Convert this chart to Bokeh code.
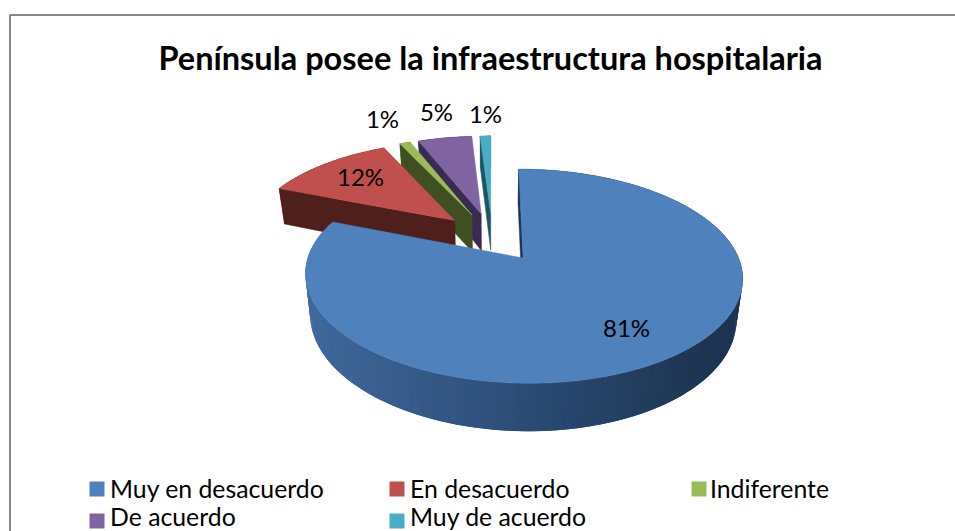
import math
from bokeh.plotting import figure
from bokeh.models import Range1d
from bokeh.core.properties import value
from bokeh.embed import file_html
from bokeh.resources import INLINE

# ---- data ----
categories = ["Muy en desacuerdo", "En desacuerdo", "Indiferente", "De acuerdo", "Muy de acuerdo"]
values = [81, 12, 1, 5, 1]
title_text = "Península posee la infraestructura hospitalaria"

# ---- style ----
top_colors = ["#4F81BD", "#C0504D", "#9BBB59", "#8064A2", "#4BACC6"]
side_colors = ["#1F3653", "#4F1F1C", "#3F4F22", "#3A2B52", "#1D5566"]
FONT = "Lato"

# ---- layout (page pixels) ----
X0, Y0, A, B, K = 491.8, 236.4, 208.0, 97.0, 0.163
DEPTH, BOTTOM_SCALE, EXPLODE = 38.5, 0.975, 0.255
label_xy = [(626, 326.5), (360, 175.5), (382, 118), (436, 110.5), (485, 112.5)]
legend_marker_x = [96.5, 396.5, 698.5, 96.5, 396.5]
legend_text_x = [109.5, 409.5, 709.5, 109.5, 409.5]
legend_marker_y = [488.5, 488.5, 488.5, 520.5, 520.5]
legend_y = [488, 488, 488, 516, 516]


def project(u, v, bottom=False):
    w = 1 + K * v
    if bottom:
        return X0 + BOTTOM_SCALE * A * u / w, Y0 - B * v / w + DEPTH / w
    return X0 + A * u / w, Y0 - B * v / w


def disc(angle, off):
    a = math.radians(angle)
    return off[0] + math.sin(a), off[1] + math.cos(a)


def mix(c1, c2, t):
    t = max(0.0, min(1.0, t))
    vals = [int(c1[i:i + 2], 16) * (1 - t) + int(c2[i:i + 2], 16) * t for i in (1, 3, 5)]
    return "#%02x%02x%02x" % tuple(round(x) for x in vals)


p = figure(width=955, height=531, output_backend="svg", toolbar_location=None,
           x_range=Range1d(0, 955), y_range=Range1d(531, 0), min_border=0,
           outline_line_color=None, background_fill_color="white")
p.xaxis.visible = False
p.yaxis.visible = False
p.grid.visible = False

# chart frame
p.line([9.5, 9.5, 955], [531, 14.5, 14.5], line_color="#868686", line_width=2)

# slice angular spans
total = sum(values)
spans, start = [], 0.0
for v in values:
    end = start + 360.0 * v / total
    spans.append((start, end))
    start = end


def draw_slice(i):
    a0, a1 = spans[i]
    mid = math.radians((a0 + a1) / 2)
    off = (EXPLODE * math.sin(mid), EXPLODE * math.cos(mid))
    n = max(4, int((a1 - a0) / 1.0))
    angles = [a0 + (a1 - a0) * k / n for k in range(n + 1)]
    rim = [disc(a, off) for a in angles]
    top_rim = [project(*q) for q in rim]
    bot_rim = [project(*q, bottom=True) for q in rim]
    apex_t = project(*off)
    apex_b = project(*off, bottom=True)
    # outer wall: painted from the far end, each strip overlapping the next so no seams show
    order = range(n) if i != 0 else range(n - 1, -1, -1)
    for k in order:
        k2 = min(n, k + 2) if i != 0 else max(0, k - 1)
        k1 = k if i != 0 else k + 1
        xs = [top_rim[k1][0], top_rim[k2][0], bot_rim[k2][0], bot_rim[k1][0]]
        ys = [top_rim[k1][1], top_rim[k2][1], bot_rim[k2][1], bot_rim[k1][1]]
        if i == 0:
            xm = sum(xs) / 4
            if xm < 540:
                c = mix("#41699C", "#2A4A73", (xm - 305) / 235)
            else:
                c = mix("#2A4A73", "#1D3552", (xm - 540) / 160)
        else:
            c = side_colors[i]
        p.patch(xs, ys, fill_color=c, line_color=None)
    # cut face at the start angle
    xs = [apex_t[0], top_rim[0][0], bot_rim[0][0], apex_b[0]]
    ys = [apex_t[1], top_rim[0][1], bot_rim[0][1], apex_b[1]]
    p.patch(xs, ys, fill_color=side_colors[i], line_color=side_colors[i], line_width=0.5)
    # top face
    xs = [apex_t[0]] + [q[0] for q in top_rim]
    ys = [apex_t[1]] + [q[1] for q in top_rim]
    p.patch(xs, ys, fill_color=top_colors[i], line_color=top_colors[i], line_width=0.5)


# painted right to left along the back: each top hides the lower part of the next wall
for i in [4, 3, 2, 1, 0]:
    draw_slice(i)

# percentage labels
p.text([q[0] for q in label_xy], [q[1] for q in label_xy], text=[f"{v}%" for v in values],
       text_font=value(FONT), text_font_size="24px", text_color="#000000",
       text_align="center", text_baseline="middle")

# title
p.text([490], [56.5], text=[title_text], text_font=value(FONT), text_font_style="bold",
       text_font_size="32.5px", text_color="#000000", text_align="center", text_baseline="middle")

# legend
p.rect(legend_marker_x, legend_marker_y, width=15, height=15, fill_color=top_colors, line_color=None)
p.text(legend_text_x, legend_y, text=categories, text_font=value(FONT), text_font_size="24.8px",
       text_color="#000000", text_align="left", text_baseline="middle")

open("out.html", "w").write(file_html(p, INLINE))
